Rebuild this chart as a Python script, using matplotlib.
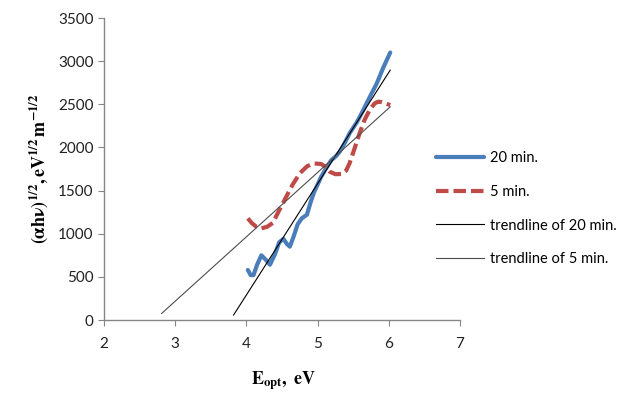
import matplotlib
matplotlib.use("Agg")
import matplotlib.pyplot as plt
import numpy as np

# 20 min. series
x20 = [4.02, 4.06, 4.10, 4.15, 4.21, 4.27, 4.33, 4.40, 4.46, 4.52, 4.57, 4.61, 4.66, 4.72, 4.78, 4.85, 4.90, 4.95, 5.00, 5.05, 5.12, 5.19, 5.26, 5.31, 5.38, 5.45, 5.55, 5.64, 5.73, 5.83, 5.92, 6.02]
y20 = [580, 520, 520, 640, 750, 700, 640, 760, 900, 940, 880, 850, 960, 1110, 1180, 1220, 1360, 1480, 1570, 1660, 1760, 1850, 1900, 1950, 2050, 2165, 2290, 2430, 2580, 2740, 2920, 3100]

# 5 min. series
x5 = [4.02, 4.08, 4.14, 4.21, 4.29, 4.37, 4.46, 4.56, 4.65, 4.75, 4.85, 4.94, 5.05, 5.12, 5.17, 5.25, 5.34, 5.40, 5.45, 5.52, 5.59, 5.66, 5.73, 5.80, 5.85, 5.90, 5.95, 6.02]
y5 = [1178, 1120, 1080, 1062, 1080, 1124, 1270, 1429, 1570, 1700, 1780, 1815, 1808, 1770, 1719, 1690, 1692, 1730, 1819, 1990, 2165, 2320, 2433, 2510, 2530, 2525, 2511, 2491]

# trendline endpoints
tx20 = [3.82, 6.02]
slope20, icpt20 = 1290.0, -4870.0
tx5 = [2.81, 6.02]
slope5, icpt5 = 746.0, -2020.0

xticks = [2, 3, 4, 5, 6, 7]
yticks = [0, 500, 1000, 1500, 2000, 2500, 3000, 3500]

plt.rcParams['mathtext.fontset'] = 'stix'

fig = plt.figure(figsize=(6.28, 4.03), dpi=100)
ax = fig.add_axes([104/628, 1 - 320/403, (460-104)/628, (320-18)/403])

ax.plot(x20, y20, color='#4a7ebb', lw=3.0, label='20 min.', solid_capstyle='round')
ax.plot(x5, y5, color='#be4b48', lw=3.0, dashes=(3, 1.2), label='5 min.')
tx20a = np.array(tx20)
tx5a = np.array(tx5)
ax.plot(tx20a, slope20*tx20a + icpt20, color='black', lw=0.8, label='trendline of 20 min.')
ax.plot(tx5a, slope5*tx5a + icpt5, color='#4d4d4d', lw=0.8, label='trendline of 5 min.')

ax.set_xlim(2, 7)
ax.set_ylim(0, 3500)
ax.set_xticks(xticks)
ax.set_yticks(yticks)
for s in ['top', 'right']:
    ax.spines[s].set_visible(False)
for s in ['left', 'bottom']:
    ax.spines[s].set_color('#868686')
    ax.spines[s].set_linewidth(1.0)
ax.tick_params(axis='both', direction='out', length=4, color='#868686',
               labelsize=11, labelcolor='#222222')
for lab in ax.get_xticklabels() + ax.get_yticklabels():
    lab.set_family(['Lato', 'DejaVu Sans'])
ax.tick_params(axis='x', pad=8)

ax.set_ylabel(r'$\mathbf{(\alpha h\nu)^{1/2}, eV^{1/2}\,m^{-1/2}}$', fontsize=13, labelpad=6)
fig.text(283/628, 1 - 381/403, r'$\mathbf{E_{opt}}$' + r'$\mathbf{,\ eV}$', ha='center', va='center', fontsize=13)

leg = fig.legend(*ax.get_legend_handles_labels(), loc='upper left',
                 bbox_to_anchor=(423/628, 1 - 138/403), frameon=False,
                 handlelength=3.3, handletextpad=0.4, labelspacing=1.35,
                 prop={'family': ['Lato', 'DejaVu Sans'], 'size': 10.5})
fig.savefig('out.png', dpi=100)
